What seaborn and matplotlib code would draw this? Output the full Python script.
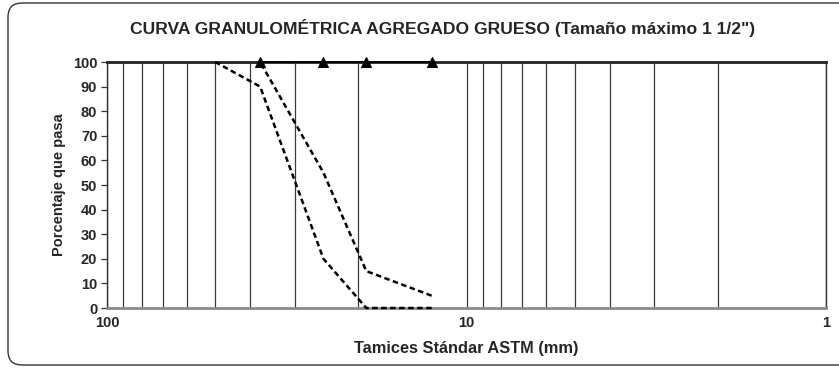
import matplotlib
matplotlib.use("Agg")
import matplotlib.pyplot as plt
import seaborn as sns
import pandas as pd
from matplotlib.patches import FancyBboxPatch
from matplotlib.transforms import IdentityTransform
from matplotlib.ticker import LogLocator, FixedLocator, FixedFormatter, NullFormatter

# Gradation limits (Huso 4) and sample results
sieve_mm = [50, 37.5, 25, 19, 12.5]
lower_limit = [100, 90, 20, 0, 0]
upper_limit = [100, 100, 55, 15, 5]
sample_mm = [37.5, 25, 19, 12.5]
sample_pass = [100, 100, 100, 100]

y_ticks = [0, 10, 20, 30, 40, 50, 60, 70, 80, 90, 100]
x_ticks = [100, 10, 1]
x_tick_labels = ["100", "10", "1"]

title = 'CURVA GRANULOMÉTRICA AGREGADO GRUESO (Tamaño máximo 1 1/2")'
x_label = "Tamices Stándar ASTM (mm)"
y_label = "Porcentaje que pasa"

sns.set_theme(style="white")
plt.rcParams["font.family"] = ["Liberation Sans", "DejaVu Sans"]

W, H = 839, 368
fig = plt.figure(figsize=(W / 100, H / 100), dpi=100)
fig.patch.set_facecolor("white")

# rounded chart-area border
frame = FancyBboxPatch((8, 3), 860, 362, boxstyle="round,pad=0,rounding_size=14",
                       transform=IdentityTransform(), facecolor="none",
                       edgecolor="#333333", linewidth=1.0)
fig.patches.append(frame)

left, right, top, bottom = 107, 826, 62, 308
ax = fig.add_axes([left / W, 1 - bottom / H, (right - left) / W, (bottom - top) / H])
ax.set_facecolor("white")

limits = pd.DataFrame({"mm": sieve_mm, "low": lower_limit, "up": upper_limit})
sample = pd.DataFrame({"mm": sample_mm, "pass": sample_pass})

# lower limit sits on top of the x axis; upper limit hides under the top frame
sns.lineplot(data=limits, x="mm", y="low", ax=ax, color="black", linewidth=1.8,
             linestyle=(0, (2.2, 1.4)), clip_on=False, zorder=4)
sns.lineplot(data=limits, x="mm", y="up", ax=ax, color="black", linewidth=1.8,
             linestyle=(0, (2.2, 1.4)), zorder=2)

sns.lineplot(data=sample, x="mm", y="pass", ax=ax, color="black", linewidth=1.2,
             marker="^", markersize=7.5, markeredgecolor="black", clip_on=False, zorder=5)

ax.set_xscale("log")
ax.set_xlim(100, 1)
ax.set_ylim(0, 100)

ax.xaxis.set_major_locator(FixedLocator(x_ticks))
ax.xaxis.set_major_formatter(FixedFormatter(x_tick_labels))
ax.xaxis.set_minor_locator(LogLocator(base=10, subs=range(2, 10)))
ax.xaxis.set_minor_formatter(NullFormatter())
ax.grid(which="both", axis="x", color="#3a3a3a", linewidth=0.9, zorder=1)
ax.grid(which="both", axis="y", visible=False)
ax.set_axisbelow(True)

ax.set_yticks(y_ticks)
ax.tick_params(axis="y", which="major", direction="out", length=4, width=0.9,
               color="#333333", labelsize=10.5, pad=3, left=True)
ax.tick_params(axis="x", which="both", length=0, labelsize=10.5, pad=6)
for lbl in ax.get_xticklabels() + ax.get_yticklabels():
    lbl.set_fontweight("bold")

for side in ["left", "right", "top"]:
    ax.spines[side].set_color("#333333")
    ax.spines[side].set_linewidth(1.0)
ax.spines["top"].set_color("#222222")
ax.spines["top"].set_linewidth(2.0)
ax.spines["bottom"].set_color("#8a8a8a")
ax.spines["bottom"].set_linewidth(2.0)
for sp in ax.spines.values():
    sp.set_zorder(3)

ax.set_xlabel(x_label, fontsize=11.8, fontweight="bold", labelpad=8)
ax.set_ylabel(y_label, fontsize=10.5, fontweight="bold", labelpad=5)

fig.text(443 / W, 1 - 28 / H, title, ha="center", va="center",
         fontsize=12.6, fontweight="bold")

fig.savefig("out.png", dpi=100)
